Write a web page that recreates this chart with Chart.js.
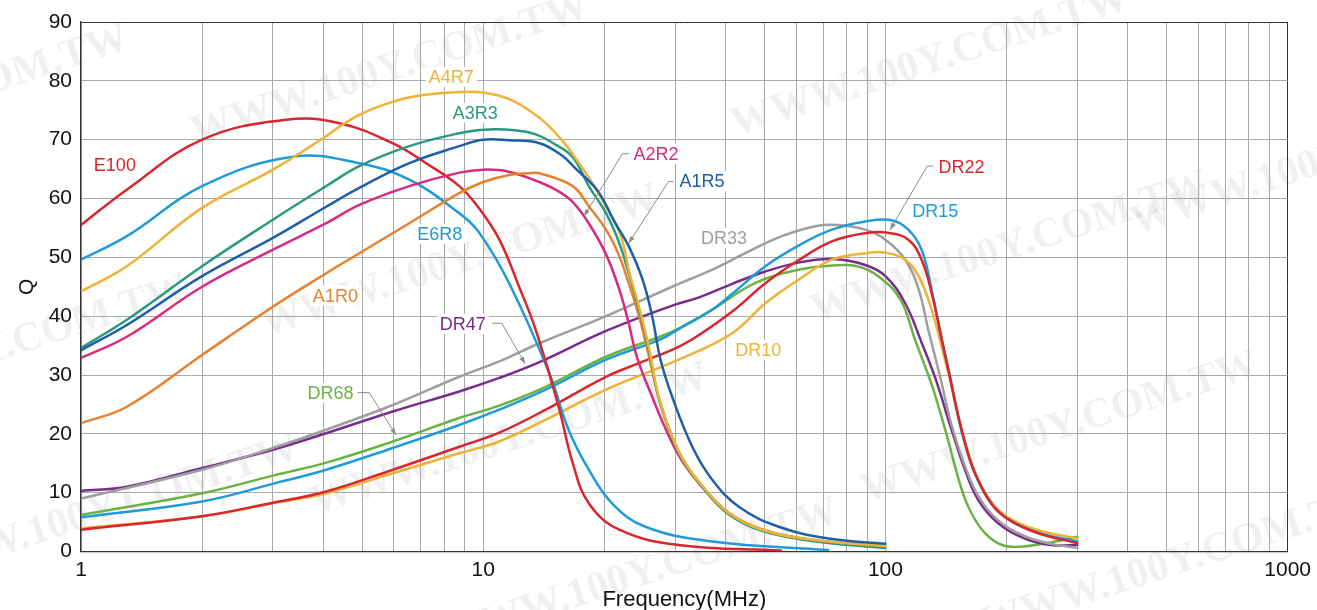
<!DOCTYPE html>
<html><head><meta charset="utf-8">
<script src="https://cdn.jsdelivr.net/npm/chart.js@4.4.1/dist/chart.umd.min.js"></script>
<style>html,body{margin:0;padding:0;background:#fff}#wrap{width:1317px;height:610px}</style>
</head><body><div id="wrap"><canvas id="c" width="1317" height="610"></canvas></div>
<script>
// ---------- data (frequency in MHz, Q) ----------
const fE100 = [1,1.3,2,3.24,4.39,5.95,7.21,8.72,9.77,10.97,12.28,13.5,15.4,16.7,18.3,21.8,30.6,55];
const qE100 = [55.5,61.5,70,73.4,72.8,69.4,66,62.1,58.3,53,45,37.7,24.6,15,8.2,3.7,1.1,0.15];

const fE6R8 = [1,1.3,2,3.36,4.92,6.55,8.72,9.77,11.6,14.6,16.3,18.3,20.9,25.3,37.1,72];
const qE6R8 = [49.6,53.6,62.1,67.1,66,63.2,57.5,54.2,45.6,30.3,20.7,13.9,8.2,4.2,1.7,0.25];

const fA4R7 = [1,1.3,2,3,4.07,4.39,4.92,5.53,6.67,8.72,10,11.6,13,14.3,16,17.3,18.2,20.2,22,23,24.4,25.8,27.3,29.5,31.8,35.7,40.8,49.3,65.6,100];
const qA4R7 = [44.2,48.5,58.4,64.9,70.6,72.2,74.2,75.7,77.3,78.1,78,76.9,75,72.8,69.2,66,63.8,58.7,53.6,47.9,41.6,34.8,26.3,19.5,15,10.5,6.5,3.7,2,0.9];

const fA3R3 = [1,1.3,2,3,4.07,4.92,6.55,8.72,10,12,13.5,15,16.7,18.3,20.2,21.8,23,24.4,25.8,27.3,29.5,31.8,35.7,40.8,49.3,65.6,100];
const qA3R3 = [34.6,39.4,48.5,56.4,62.1,65.5,68.9,71.1,71.7,71.6,70.9,69.3,67,62.1,57.5,52.4,47.3,41.1,34.3,26,19.3,14.8,10.3,6.3,3.5,1.8,0.6];

const fA1R5 = [1,1.3,2,3,4.07,4.92,6.55,8.72,10,11.6,13.8,15.7,16.9,19.2,21.3,23,24.9,26.3,27.6,29.5,33.1,37.1,43.2,54.3,72.2,100];
const qA1R5 = [34.2,38.5,46.8,53.3,58.6,61.8,66,68.9,70,69.9,69.4,67.3,65.2,61.4,55.8,51.9,46.2,40,32.6,26.3,17.8,12.2,7.6,4.2,2.2,1.3];

const fA2R2 = [1,1.3,2,3,4.07,4.92,6.55,8.72,10,11.5,13.8,15.4,16.7,18.3,20.2,21.8,23,24.1,26.3,29,31.5,35.5,40.8,49.3,65.6,100];
const qA2R2 = [32.9,36.5,45,51.3,55.8,58.9,62.1,64.4,64.9,64.6,62.8,61.2,59.4,55.8,50.5,44.5,38.8,33.1,26.3,19.5,15,10.5,6.4,3.6,1.9,0.7];

const fA1R0 = [1,1.3,2,3,4.07,4.92,6.55,8.72,10,11.6,13,13.8,16.7,18.3,20.2,21.8,23,24.4,25.6,27.3,29.5,31.8,35.7,40.8,49.3,65.6,100];
const qA1R0 = [21.8,24.6,33.4,41.6,47.3,50.7,55.8,60.9,62.8,64,64.3,64.3,62.1,58.7,54.7,50.2,45.6,40,34.3,26.3,19.5,15,10.5,6.6,3.8,2,0.9];

const fDR33 = [1,2,3,4.07,5.96,8.72,10.96,13.8,20.2,29.5,37.1,45.7,55.3,66.9,76.4,89.1,100,112,121,128,137,146,157.7,170,190.7,222,258.6,300];
const qDR33 = [9,13.9,17.6,20.7,24.9,29.7,32.3,35.4,40,45,47.9,51,53.6,55.3,55.5,54.7,53,49.6,44.5,37.5,29.5,21.5,14.5,9.5,5.3,2.6,1.3,0.6];

const fDR47 = [1,1.3,2,3,4.07,5.96,8.72,10.96,13.8,20.2,29.5,34.4,41.6,50.3,60.8,73.6,89.1,100,112,123,133,146,157.7,170,190.7,222,258.6,300];
const qDR47 = [10.3,11,14.2,17.3,20.1,23.8,27.2,29.5,32.2,37.5,41.8,43.2,45.5,47.6,49.1,49.7,48.7,46.8,42.2,35.5,29.5,20.7,13.9,8.8,4.8,2.2,1.1,1.1];

const fDR68 = [1,2,3,4.07,5.96,8.72,10.96,14.3,20.2,27.5,30.6,37.1,47.4,60.8,73.6,85,96,109,118.5,127,131.6,140.8,154.8,163.6,177,195,214.6,251,300];
const qDR68 = [6.2,9.9,12.9,15.1,18.7,22.7,24.8,28,33.1,36.5,37.9,41.1,45.6,47.9,48.6,48.5,46.8,42.8,36,30.5,27.5,20.7,10.5,6.5,3.1,1.1,0.8,1.4,2.5];

const fDR15 = [1,2,3,4.07,5.96,8.72,10.96,14.3,20.2,27.5,30.6,37.1,41.6,50.3,60.8,73.6,89.1,103.7,114,123,130.3,138,145,154.8,167,184,205,240,300];
const qDR15 = [5.8,8.5,11.5,13.9,17.6,21.5,24.1,27.5,32.6,36,37.8,41.1,43.8,48.5,52,54.7,56.1,56.3,54.7,51.3,44.5,36,29.5,20.3,13.2,8,5.2,3.2,1.7];

const fDR22 = [1,2,3,4.07,5.96,8.72,10.96,14.3,20.2,25,30.6,34.4,42,50.3,60.8,73.6,89.1,101,114,123,130.3,140.7,145,151.8,160.7,167,184,205,240,300];
const qDR22 = [3.7,6,8.3,10.2,13.9,17.8,20.2,24.1,29.7,32.3,34.8,36.8,41,45.6,49.5,52.7,54.1,54.2,53,49.6,43.9,33.5,29.3,23,16.5,13.3,8,5.2,3.1,1.4];

const fDR10 = [1,2,3,4.07,5.96,8.72,10.96,14.3,20.2,30.6,41.6,50.3,60.8,73.6,89.1,100,112,121,130.3,140.7,145,151.8,167,184,205,240,300];
const qDR10 = [3.9,6,8.2,9.9,13.3,16.7,18.7,22.4,27.5,32.6,37.1,42.2,46.2,49.6,50.7,50.8,49.6,46.8,41.1,32.5,29,22.9,13.5,8.3,5.5,3.6,2.2];

// ---------- axis ticks ----------
const xTickValues = [1,2,3,4,5,6,7,8,9,10,20,30,40,50,60,70,80,90,100,200,300,400,500,600,700,800,900,1000];
const xTickLabels = [1,10,100,1000];
const yTicks = [0,10,20,30,40,50,60,70,80,90];

// ---------- series styling ----------
const RED='#D8262C', LBLUE='#1F9BD7', YEL='#EEB236', TEAL='#2A9A7E', DBLUE='#1F5EA8', MAG='#D92A80', ORG='#E8812E', GRAY='#9E9E9E', PURP='#7A2C8C', GREEN='#6CB242';

const seriesDefs = [
  ['A1R5', fA1R5, qA1R5, DBLUE],
  ['A4R7', fA4R7, qA4R7, YEL],
  ['A3R3', fA3R3, qA3R3, TEAL],
  ['A1R0', fA1R0, qA1R0, ORG],
  ['A2R2', fA2R2, qA2R2, MAG],
  ['E100', fE100, qE100, RED],
  ['E6R8', fE6R8, qE6R8, LBLUE],
  ['DR22', fDR22, qDR22, RED],
  ['DR15', fDR15, qDR15, LBLUE],
  ['DR10', fDR10, qDR10, YEL],
  ['DR33', fDR33, qDR33, GRAY],
  ['DR47', fDR47, qDR47, PURP],
  ['DR68', fDR68, qDR68, GREEN]
];

// annotation labels (data coordinates)
const labels = [
  {t:'E100', c:RED,   f:1.214, q:65.75},
  {t:'A4R7', c:YEL,   f:8.33,  q:80.7},
  {t:'A3R3', c:TEAL,  f:9.55,  q:74.6},
  {t:'A2R2', c:MAG,   f:26.9,  q:67.6},
  {t:'A1R5', c:DBLUE, f:35.0,  q:62.9},
  {t:'DR22', c:RED,   f:154.6, q:65.4},
  {t:'DR15', c:LBLUE, f:133,   q:57.8},
  {t:'DR33', c:GRAY,  f:39.7,  q:53.3},
  {t:'E6R8', c:LBLUE, f:7.8,   q:54.0},
  {t:'A1R0', c:ORG,   f:4.29,  q:43.5},
  {t:'DR47', c:PURP,  f:8.89,  q:38.7},
  {t:'DR10', c:YEL,   f:48.3,  q:34.3},
  {t:'DR68', c:GREEN, f:4.17,  q:27.0}
];
const leaders = [
  [[23.0,67.6],[22.2,67.6],[17.8,57.0]],
  [[29.7,62.9],[28.9,62.9],[23.0,52.4]],
  [[131.6,65.5],[127,65.5],[102.7,54.7]],
  [[10.54,38.8],[11.12,38.8],[12.71,31.9]],
  [[4.87,27.0],[5.21,27.0],[6.07,19.8]]
];
const watermarks = [[-70,102],[390,70],[930,62],[-10,352],[460,262],[1010,248],[100,512],[510,440],[1060,428],[640,575],[1180,562],[1330,160]];

const wmPlugin = {
  id:'wm',
  beforeDraw(chart){
    const ctx=chart.ctx; ctx.save();
    ctx.fillStyle='#fff'; ctx.fillRect(0,0,chart.width,chart.height);
    ctx.font='bold 42px "Liberation Serif", "DejaVu Serif", serif';
    ctx.fillStyle='rgba(0,0,0,0.06)';
    ctx.textAlign='center'; ctx.textBaseline='middle';
    for(const [x,y] of watermarks){
      ctx.save(); ctx.translate(x,y); ctx.rotate(-18*Math.PI/180);
      ctx.fillText('WWW.100Y.COM.TW',0,0); ctx.restore();
    }
    ctx.restore();
  }
};

const annPlugin = {
  id:'ann',
  afterDatasetsDraw(chart){
    const ctx=chart.ctx, xs=chart.scales.x, ys=chart.scales.y;
    ctx.save();
    ctx.strokeStyle='#8a8a8a'; ctx.fillStyle='#8a8a8a'; ctx.lineWidth=1;
    for(const L of leaders){
      const pts=L.map(p=>[xs.getPixelForValue(p[0]), ys.getPixelForValue(p[1])]);
      ctx.beginPath(); ctx.moveTo(pts[0][0],pts[0][1]);
      for(let i=1;i<pts.length;i++) ctx.lineTo(pts[i][0],pts[i][1]);
      ctx.stroke();
      const a=pts[pts.length-2], b=pts[pts.length-1];
      const ang=Math.atan2(b[1]-a[1], b[0]-a[0]);
      ctx.beginPath(); ctx.moveTo(b[0],b[1]);
      ctx.lineTo(b[0]-7*Math.cos(ang)+2.5*Math.sin(ang), b[1]-7*Math.sin(ang)-2.5*Math.cos(ang));
      ctx.lineTo(b[0]-7*Math.cos(ang)-2.5*Math.sin(ang), b[1]-7*Math.sin(ang)+2.5*Math.cos(ang));
      ctx.closePath(); ctx.fill();
    }
    ctx.font='18px "Liberation Sans", Arial, sans-serif';
    ctx.textAlign='center'; ctx.textBaseline='middle';
    for(const l of labels){
      const x=xs.getPixelForValue(l.f), y=ys.getPixelForValue(l.q);
      const w=ctx.measureText(l.t).width;
      ctx.fillStyle='#fff'; ctx.fillRect(x-w/2-3, y-10, w+6, 20);
      ctx.fillStyle=l.c; ctx.fillText(l.t, x, y+1);
    }
    ctx.restore();
  }
};

new Chart(document.getElementById('c'), {
  type:'line',
  data:{
    datasets: seriesDefs.map(([name,f,q,col])=>({
      label:name,
      data:f.map((x,i)=>({x:x, y:q[i]})),
      borderColor:col, backgroundColor:col,
      borderWidth:2.5, pointRadius:0, fill:false,
      tension:0.4, borderJoinStyle:'round', borderCapStyle:'round'
    }))
  },
  options:{
    responsive:false, animation:false, devicePixelRatio:1,
    layout:{padding:{top:22, right:27, left:0, bottom:0}},
    plugins:{legend:{display:false}, tooltip:{enabled:false}},
    scales:{
      x:{
        type:'logarithmic', min:1, max:1000,
        afterBuildTicks: ax => { ax.ticks = xTickValues.map(v=>({value:v})); },
        afterFit: ax => { ax.height = 58.5; },
        ticks:{autoSkip:false, maxRotation:0, minRotation:0, padding:6, color:'#111',
          font:{family:'"Liberation Sans", Arial, sans-serif', size:21},
          callback:(v)=> xTickLabels.includes(v) ? String(v) : ''},
        grid:{drawTicks:false, lineWidth:1,
          color: c => (c.tick && c.tick.value===1000) ? '#333' : '#a9a9a9'},
        border:{color:'#333', width:1.3},
        title:{display:true, text:'Frequency(MHz)', color:'#111',
          font:{family:'"Liberation Sans", Arial, sans-serif', size:22},
          padding:{top:0,bottom:-3}}
      },
      y:{
        min:0, max:90,
        afterBuildTicks: ax => { ax.ticks = yTicks.map(v=>({value:v})); },
        afterFit: ax => { ax.width = 81; },
        ticks:{padding:9, color:'#111',
          font:{family:'"Liberation Sans", Arial, sans-serif', size:21}},
        grid:{drawTicks:false, lineWidth:1,
          color: c => (c.tick && c.tick.value===90) ? '#333' : '#a9a9a9'},
        border:{color:'#333', width:1.3},
        title:{display:true, text:'Q', color:'#111',
          font:{family:'"Liberation Sans", Arial, sans-serif', size:21},
          padding:{top:15,bottom:0}}
      }
    }
  },
  plugins:[wmPlugin, annPlugin]
});
</script>
</body></html>
